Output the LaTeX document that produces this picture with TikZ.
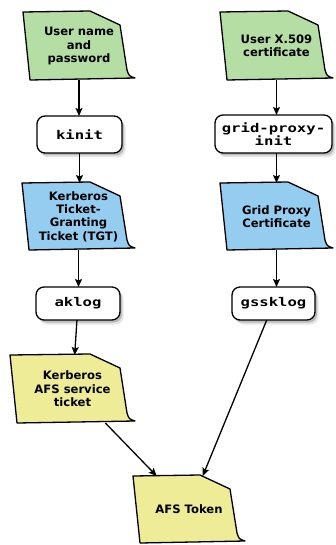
\documentclass[tikz,border=0pt]{standalone}
\usepackage{fontspec}
\setmainfont{DejaVu Sans}
\setmonofont[FakeStretch=1.3]{DejaVu Sans Mono}
\usetikzlibrary{calc,arrows.meta,backgrounds}

\definecolor{notegreen}{RGB}{181,222,164}
\definecolor{noteblue}{RGB}{148,205,240}
\definecolor{noteyellow}{RGB}{238,236,150}

% outline of a dog-eared note around node #1
\newcommand\noteoutline[1]{%
  (#1.north west) -- ($(#1.north east)+(-45,-1)$) -- ($(#1.north east)+(-15,13)$)
  -- ($(#1.south east)+(-8,-10)$)
  .. controls ($(#1.south east)+(-6,-4)$) .. ($(#1.south east)+(0,-2)$)
  -- ($(#1.south west)+(7,0)$) -- cycle}

% note body with a soft shadow, drawn behind its text
\newcommand\drawnote[2]{%
  \fill[black,opacity=.10,shift={(3.5,4.5)}] \noteoutline{#1};
  \fill[black,opacity=.18,shift={(2,2.5)}] \noteoutline{#1};
  \filldraw[fill=#2,draw=black,line width=1.3pt,line join=round] \noteoutline{#1};}

% rounded command box with a soft shadow
\newcommand\drawcmd[1]{%
  \fill[black,opacity=.10,rounded corners=8pt] ($(#1.south west)+(3.5,4.5)$) rectangle ($(#1.north east)+(3.5,4.5)$);
  \fill[black,opacity=.18,rounded corners=8pt] ($(#1.south west)+(2,2.5)$) rectangle ($(#1.north east)+(2,2.5)$);
  \filldraw[fill=white,draw=black,line width=1.3pt,rounded corners=8pt] (#1.south west) rectangle (#1.north east);}

\tikzset{
  note/.style={rectangle,inner sep=0pt,outer sep=0pt,minimum width=112pt,minimum height=68pt,
    align=center,font=\bfseries\fontsize{11.6}{13.4}\selectfont},
  cmd/.style={rectangle,inner sep=0pt,outer sep=0pt,minimum width=85pt,minimum height=37pt,
    align=center,font=\ttfamily\bfseries\fontsize{12}{12.5}\selectfont},
  arr/.style={line width=1.3pt,-{Stealth[length=8pt,width=7pt,inset=1.5pt]}}
}

\begin{document}
\begin{tikzpicture}[x=1pt,y=-1pt]
\useasboundingbox (0,0) rectangle (336,545);

% sources and intermediate credentials
\node[note] (user)  at (79,46)    {User name\\and\\password};
\node[note,minimum width=113pt] (x509) at (276.5,46) {User X.509\\certificate};
\node[note,minimum width=113pt,minimum height=67pt] (tgt) at (78.5,216.5) {Kerberos\\Ticket-\\Granting\\Ticket (TGT)};
\node[note,minimum width=113pt,minimum height=67pt] (proxy) at (276.5,216.5) {Grid Proxy\\Certificate};
\node[note,minimum width=125pt] (svc) at (72.5,389) {Kerberos\\AFS service\\ticket};
\node[note,minimum height=67pt] (token) at (189,509.5) {AFS Token};

% commands
\node[cmd] (kinit) at (79.5,134.5) {kinit};
\node[cmd,minimum width=117pt,minimum height=38pt] (gpi) at (273.5,134) {grid-proxy-\\init};
\node[cmd,minimum width=84pt,minimum height=33pt] (aklog) at (78,303.5) {aklog};
\node[cmd,minimum width=83pt,minimum height=33pt] (gssklog) at (273.5,303.5) {gssklog};

\begin{scope}[on background layer]
  \drawnote{user}{notegreen}
  \drawnote{x509}{notegreen}
  \drawnote{tgt}{noteblue}
  \drawnote{proxy}{noteblue}
  \drawnote{svc}{noteyellow}
  \drawnote{token}{noteyellow}
  \drawcmd{kinit}
  \drawcmd{gpi}
  \drawcmd{aklog}
  \drawcmd{gssklog}
\end{scope}

% Kerberos path
\draw[arr] (user) -- (user |- kinit.north);
\draw[arr] (kinit) -- (kinit |- tgt.north);
\draw[arr] (tgt) -- (tgt |- aklog.north);
\draw[arr] (aklog) -- (svc);
\draw[arr] (svc) -- (token);

% grid proxy path
\draw[arr] (x509) -- (x509 |- gpi.north);
\draw[arr] (gpi.south -| proxy) -- (proxy);
\draw[arr] (proxy) -- (proxy |- gssklog.north);
\draw[arr] (gssklog) -- (token);
\end{tikzpicture}
\end{document}
